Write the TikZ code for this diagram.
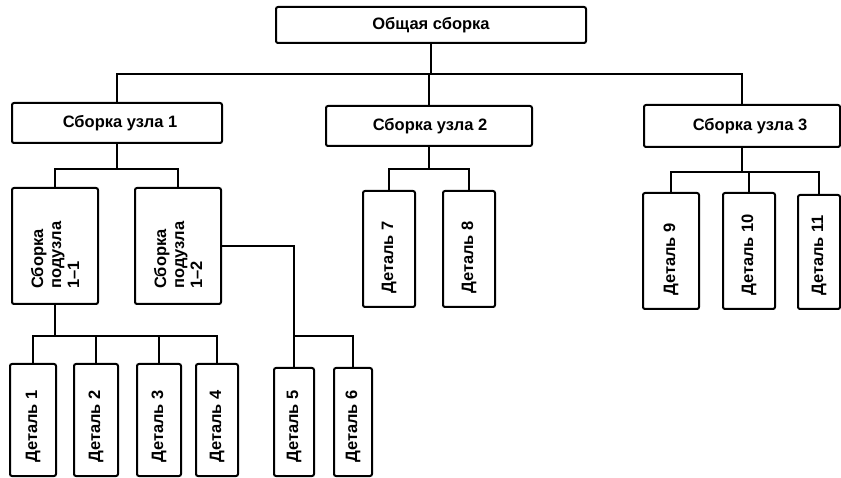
\documentclass[tikz,border=0pt]{standalone}
\usepackage{fontspec}
\setmainfont{Liberation Sans}
\newfontfamily\labfont{Liberation Sans}
\usetikzlibrary{calc}
\tikzset{
  box/.style={draw, line width=2pt, rounded corners=2pt, inner sep=0pt},
  htext/.style={font=\labfont\bfseries\fontsize{16.5}{18}\selectfont, inner sep=0pt},
  vtext/.style={font=\labfont\bfseries\fontsize{16.5}{18}\selectfont, inner sep=0pt, rotate=90, anchor=west, align=left},
  conn/.style={line width=2pt}
}
\begin{document}
\begin{tikzpicture}[x=1pt,y=-1pt]
\useasboundingbox (0,0) rectangle (841,478);
% level 0
\node[box, minimum width=310pt, minimum height=36pt, htext] (top) at (431,25) {Общая сборка};
% level 1
\node[box, minimum width=210pt, minimum height=40pt] (n1) at (117,123) {};
\node[box, minimum width=206pt, minimum height=40pt] (n2) at (429,126) {};
\node[box, minimum width=196pt, minimum height=42pt] (n3) at (742,126) {};
\node[htext] (t1) at (120,123) {Сборка узла 1};
\node[htext] (t2) at (430,126) {Сборка узла 2};
\node[htext] (t3) at (750,126) {Сборка узла 3};
% level 2
\node[box, minimum width=86pt, minimum height=116pt] (s11) at (55,246) {};
\node[box, minimum width=86pt, minimum height=116pt] (s12) at (178,246) {};
\node[vtext] (ts11) at ($(s11.south)+(0,-16)$) {Сборка\\подузла\\1–1};
\node[vtext] (ts12) at ($(s12.south)+(0,-16)$) {Сборка\\подузла\\1–2};
\node[box, minimum width=52pt, minimum height=116pt] (D7) at (389,249) {};
\node[box, minimum width=52pt, minimum height=116pt] (D8) at (469,249) {};
\node[box, minimum width=56pt, minimum height=116pt] (D9) at (671,251) {};
\node[box, minimum width=52pt, minimum height=116pt] (D10) at (749,251) {};
\node[box, minimum width=42pt, minimum height=114pt] (D11) at (819,252) {};
% level 3
\node[box, minimum width=46pt, minimum height=112pt] (D1) at (33,420) {};
\node[box, minimum width=44pt, minimum height=112pt] (D2) at (96,420) {};
\node[box, minimum width=44pt, minimum height=112pt] (D3) at (159,420) {};
\node[box, minimum width=42pt, minimum height=112pt] (D4) at (217,420) {};
\node[box, minimum width=40pt, minimum height=108pt] (D5) at (294,422) {};
\node[box, minimum width=38pt, minimum height=108pt] (D6) at (353,422) {};
% detail labels
\foreach \d/\t in {D1/Деталь 1, D2/Деталь 2, D3/Деталь 3, D4/Деталь 4, D5/Деталь 5, D6/Деталь 6, D7/Деталь 7, D8/Деталь 8, D9/Деталь 9, D10/Деталь 10, D11/Деталь 11}
  \node[vtext] (t\d) at ($(\d.south)+(0,-14)$) {\t};
% connectors
\draw[conn] (top.south) -- ++(0,30) coordinate (busT);
\draw[conn] (busT) -| (n1.north);
\draw[conn] (busT) -| (n2.north);
\draw[conn] (busT) -| (n3.north);
\draw[conn] (n1.south) -- ++(0,25) coordinate (b1);
\draw[conn] (b1) -| (s11.north);
\draw[conn] (b1) -| (s12.north);
\draw[conn] (s11.south) -- ++(0,31) coordinate (b11);
\foreach \d in {D1,D2,D3,D4} \draw[conn] (b11) -| (\d.north);
\draw[conn] (s12.east) -| (D5.north);
\path (D5.north) ++(0,-31) coordinate (b12);
\draw[conn] (b12) -| (D6.north);
\draw[conn] (n2.south) -- ++(0,22) coordinate (b2);
\draw[conn] (b2) -| (D7.north);
\draw[conn] (b2) -| (D8.north);
\draw[conn] (n3.south) -- ++(0,24) coordinate (b3);
\foreach \d in {D9,D10,D11} \draw[conn] (b3) -| (\d.north);
\end{tikzpicture}
\end{document}
